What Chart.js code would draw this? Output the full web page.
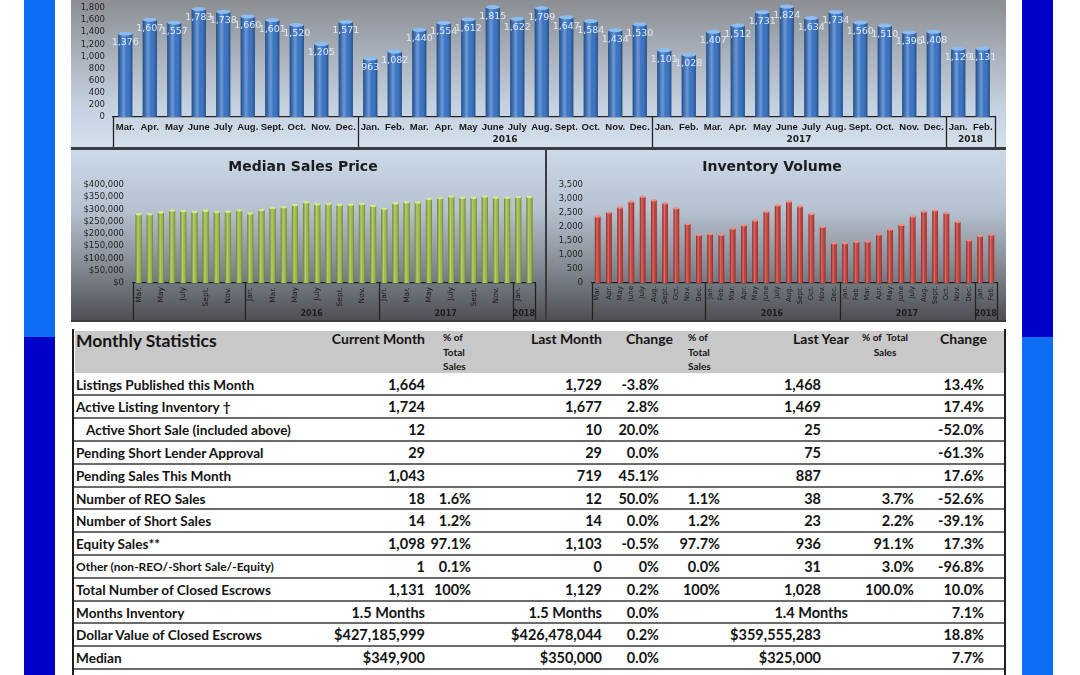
<!DOCTYPE html>
<html>
<head>
<meta charset="utf-8">
<script src="https://cdn.jsdelivr.net/npm/chart.js@4.4.1/dist/chart.umd.min.js"></script>
<style>
  html, body { margin: 0; padding: 0; background: #fff; }
  body { width: 1080px; height: 675px; position: relative; overflow: hidden; font-family: Lato, "Open Sans", sans-serif; color: #141414; }
  .strip { position: absolute; width: 31px; }
  #frame { position: absolute; left: 71px; top: 0; width: 935px; height: 322px; background: #3a3c3f; }
  #topPanel { position: absolute; left: 0; top: 0; width: 935px; height: 147px;
    background: linear-gradient(#8b8e93 0%, #a8afb9 35%, #c5d1df 72%, #d4dfec 100%); }
  #midL, #midR { position: absolute; top: 150px; height: 170px;
    background: linear-gradient(#ccd9e9 0%, #b6c2d0 35%, #858b93 68%, #4d5055 100%); }
  #midL { left: 0; width: 474px; }
  #midR { left: 476px; width: 459px; }
  canvas { position: absolute; left: 0; top: 0; }
  .cell { position: absolute; white-space: nowrap; font-weight: 700; }
</style>
</head>
<body>
<div class="strip" style="left:24px;top:0;height:337px;background:#0d6df5"></div>
<div class="strip" style="left:24px;top:337px;height:338px;background:#0000c9"></div>
<div class="strip" style="left:1022px;top:0;height:337px;background:#0000c9"></div>
<div class="strip" style="left:1022px;top:337px;height:338px;background:#0d6df5"></div>

<div id="frame">
  <div id="topPanel"><canvas id="salesChart" width="935" height="147"></canvas></div>
  <div id="midL"><canvas id="medianChart" width="474" height="170"></canvas></div>
  <div id="midR"><canvas id="inventoryChart" width="459" height="170"></canvas></div>
</div>

<div id="stats"></div>

<script>
// Month labels, Mar. 2015 to Feb. 2018
const monthLabels = ['Mar.', 'Apr.', 'May', 'June', 'July', 'Aug.', 'Sept.', 'Oct.', 'Nov.', 'Dec.',
  'Jan.', 'Feb.', 'Mar.', 'Apr.', 'May', 'June', 'July', 'Aug.', 'Sept.', 'Oct.', 'Nov.', 'Dec.',
  'Jan.', 'Feb.', 'Mar.', 'Apr.', 'May', 'June', 'July', 'Aug.', 'Sept.', 'Oct.', 'Nov.', 'Dec.',
  'Jan.', 'Feb.'];
const yearLabels = ['', '2016', '2017', '2018'];
const yearSizes = [10, 12, 12, 2];

const closedSales = [1376, 1607, 1557, 1783, 1738, 1660, 1601, 1520, 1205, 1571,
  963, 1082, 1440, 1554, 1612, 1815, 1622, 1799, 1647, 1584, 1434, 1530,
  1101, 1028, 1407, 1512, 1731, 1824, 1634, 1734, 1560, 1510, 1396, 1408,
  1129, 1131];

const medianPrice = [280000, 280000, 288000, 295000, 293000, 289000, 294000, 289000, 290000, 296000,
  283000, 297000, 305000, 309000, 318000, 329000, 321000, 322000, 318000, 319000, 322000, 314000,
  302000, 325000, 329000, 328000, 342000, 346000, 352000, 347000, 347000, 352000, 347000, 347000,
  350000, 349900];

const inventory = [2370, 2510, 2690, 2900, 3070, 2950, 2840, 2660, 2100, 1710,
  1750, 1720, 1940, 2060, 2230, 2540, 2770, 2900, 2730, 2460, 2000, 1420,
  1420, 1469, 1480, 1730, 1910, 2070, 2370, 2550, 2590, 2490, 2180, 1520,
  1677, 1724];

// Monthly statistics table
const rowLabels = ['Listings Published this Month', 'Active Listing Inventory \u2020', 'Active Short Sale (included above)',
  'Pending Short Lender Approval', 'Pending Sales This Month', 'Number of REO Sales', 'Number of Short Sales',
  'Equity Sales**', 'Other (non-REO/-Short Sale/-Equity)', 'Total Number of Closed Escrows', 'Months Inventory',
  'Dollar Value of Closed Escrows', 'Median'];
const currentMonth = ['1,664', '1,724', '12', '29', '1,043', '18', '14', '1,098', '1', '1,131', '1.5 Months', '$427,185,999', '$349,900'];
const currentPct = ['', '', '', '', '', '1.6%', '1.2%', '97.1%', '0.1%', '100%', '', '', ''];
const lastMonth = ['1,729', '1,677', '10', '29', '719', '12', '14', '1,103', '0', '1,129', '1.5 Months', '$426,478,044', '$350,000'];
const monthChange = ['-3.8%', '2.8%', '20.0%', '0.0%', '45.1%', '50.0%', '0.0%', '-0.5%', '0%', '0.2%', '0.0%', '0.2%', '0.0%'];
const lastMonthPct = ['', '', '', '', '', '1.1%', '1.2%', '97.7%', '0.0%', '100%', '', '', ''];
const lastYear = ['1,468', '1,469', '25', '75', '887', '38', '23', '936', '31', '1,028', '1.4 Months', '$359,555,283', '$325,000'];
const lastYearPct = ['', '', '', '', '', '3.7%', '2.2%', '91.1%', '3.0%', '100.0%', '', '', ''];
const yearChange = ['13.4%', '17.4%', '-52.0%', '-61.3%', '17.6%', '-52.6%', '-39.1%', '17.3%', '-96.8%', '10.0%', '7.1%', '18.8%', '7.7%'];

Chart.defaults.font.family = 'DejaVu Sans';
Chart.defaults.animation = false;

// draws the shaded "cylinder" look over the library's bars
const cylinderBars = {
  id: 'cylinderBars',
  afterDatasetsDraw(chart, args, opts) {
    const ctx = chart.ctx;
    chart.getDatasetMeta(0).data.forEach(bar => {
      const half = bar.width / 2;
      const g = ctx.createLinearGradient(bar.x - half, 0, bar.x + half, 0);
      g.addColorStop(0, 'rgba(0,0,0,0.28)');
      g.addColorStop(0.38, 'rgba(255,255,255,0.30)');
      g.addColorStop(0.6, 'rgba(255,255,255,0.05)');
      g.addColorStop(1, 'rgba(0,0,0,0.32)');
      ctx.save();
      ctx.fillStyle = g;
      ctx.fillRect(bar.x - half, bar.y, bar.width, bar.base - bar.y);
      ctx.fillStyle = opts.cap;
      ctx.beginPath();
      ctx.ellipse(bar.x, bar.y, half, Math.max(1.2, half * 0.28), 0, 0, Math.PI * 2);
      ctx.fill();
      ctx.restore();
    });
  }
};

// value labels on the closed sales bars
const barValues = {
  id: 'barValues',
  afterDatasetsDraw(chart, args, opts) {
    if (!opts.show) return;
    const ctx = chart.ctx;
    const data = chart.data.datasets[0].data;
    ctx.save();
    ctx.fillStyle = opts.color;
    ctx.font = opts.font;
    ctx.textAlign = 'center';
    ctx.textBaseline = 'middle';
    chart.getDatasetMeta(0).data.forEach((bar, i) => {
      ctx.fillText(data[i].toLocaleString('en-US'), bar.x, bar.y + opts.offset);
    });
    ctx.restore();
  }
};

// year separators and year names under the month labels
const yearGroups = {
  id: 'yearGroups',
  afterDraw(chart, args, opts) {
    const xs = chart.scales.x;
    const area = chart.chartArea;
    const ctx = chart.ctx;
    const step = xs.getPixelForValue(1) - xs.getPixelForValue(0);
    const edgeAt = i => xs.getPixelForValue(i) - step / 2;
    const line = px => {
      ctx.beginPath();
      ctx.moveTo(Math.round(px) + 0.5, area.bottom);
      ctx.lineTo(Math.round(px) + 0.5, area.bottom + opts.lineLen);
      ctx.stroke();
    };
    ctx.save();
    ctx.strokeStyle = opts.lineColor;
    ctx.lineWidth = 1.3;
    ctx.fillStyle = opts.textColor;
    ctx.font = opts.font;
    ctx.textAlign = 'center';
    ctx.textBaseline = 'middle';
    let start = 0;
    line(edgeAt(0));
    yearSizes.forEach((n, k) => {
      const end = start + n;
      line(edgeAt(end));
      if (yearLabels[k]) ctx.fillText(yearLabels[k], (edgeAt(start) + edgeAt(end)) / 2, area.bottom + opts.yearOffset);
      start = end;
    });
    ctx.restore();
  }
};

function makeBars(id, values, cfg) {
  return new Chart(document.getElementById(id), {
    type: 'bar',
    data: {
      labels: monthLabels,
      datasets: [{ data: values, backgroundColor: cfg.color, barPercentage: cfg.barPct, categoryPercentage: 1 }]
    },
    plugins: [cylinderBars, barValues, yearGroups],
    options: {
      responsive: false,
      layout: { padding: { top: cfg.padTop, right: cfg.padRight, left: 0, bottom: 0 } },
      plugins: {
        legend: { display: false },
        tooltip: { enabled: false },
        title: cfg.title ? {
          display: true, text: cfg.title, color: '#1b1b1b',
          font: { family: 'DejaVu Sans', size: 14, weight: 'bold' },
          padding: { top: 9, bottom: 9 }
        } : { display: false },
        cylinderBars: { cap: cfg.cap },
        barValues: { show: !!cfg.showValues, color: '#dde8f6', font: '9.5px "DejaVu Sans"', offset: 9 },
        yearGroups: { lineLen: cfg.lineLen, yearOffset: cfg.yearOffset, lineColor: '#222', textColor: '#1e1e1e', font: cfg.yearFont }
      },
      scales: {
        x: {
          grid: { display: false, drawTicks: false },
          border: { display: true, color: '#222', width: 1.3 },
          ticks: {
            autoSkip: false, minRotation: cfg.rotate, maxRotation: cfg.rotate, padding: cfg.tickPad,
            color: '#1a1a1a', font: cfg.xFont,
            callback: (v, i) => (cfg.every2 && i % 2) ? '' : monthLabels[i]
          },
          afterFit: s => { s.height = cfg.xHeight; }
        },
        y: {
          min: 0, max: cfg.max,
          grid: { display: false, drawTicks: false },
          border: { display: false },
          ticks: {
            autoSkip: false,
            stepSize: cfg.step, padding: cfg.yPad, color: '#262626', font: { size: 8.5 },
            callback: v => cfg.prefix + v.toLocaleString('en-US')
          },
          afterFit: s => {
            s.width = cfg.yWidth;
            if (cfg.noLabelPad) { s.paddingTop = 0; }
          }
        }
      }
    }
  });
}

makeBars('salesChart', closedSales, {
  color: '#2d6cc2', cap: '#8cbdf0', barPct: 0.58, max: 1800, step: 200, prefix: '',
  padTop: 8, padRight: 11, yWidth: 42, yPad: 8, xHeight: 30, rotate: 0, tickPad: 5, noLabelPad: true,
  xFont: { family: 'Liberation Sans', size: 9.5, weight: 'bold' },
  yearFont: 'bold 9px "DejaVu Sans"',
  lineLen: 30, yearOffset: 23, showValues: true
});

makeBars('medianChart', medianPrice, {
  color: '#98b83c', cap: '#d4ea8c', barPct: 0.55, max: 400000, step: 50000, prefix: '$',
  padTop: 0, padRight: 10, yWidth: 62, yPad: 9, xHeight: 37, rotate: 90, tickPad: 4,
  xFont: { family: 'DejaVu Sans', size: 7.5 }, every2: true,
  yearFont: 'bold 8px "DejaVu Sans"',
  lineLen: 37, yearOffset: 31, title: 'Median Sales Price'
});

makeBars('inventoryChart', inventory, {
  color: '#c4322b', cap: '#ee8e86', barPct: 0.5, max: 3500, step: 500, prefix: '',
  padTop: 0, padRight: 9, yWidth: 45, yPad: 9, xHeight: 37, rotate: 90, tickPad: 3,
  xFont: { family: 'DejaVu Sans', size: 7 },
  yearFont: 'bold 8px "DejaVu Sans"',
  lineLen: 37, yearOffset: 31, title: 'Inventory Volume'
});

// ---- table ----
const stats = document.getElementById('stats');
function box(css, text) {
  const d = document.createElement('div');
  d.className = 'cell';
  d.style.cssText = css;
  if (text !== undefined) d.innerHTML = text;
  stats.appendChild(d);
  return d;
}

box('left:75px;top:331px;width:929px;height:42px;background:#c8c8c8');
box('left:72px;top:329px;width:2px;height:346px;background:#1e1e1e');
box('left:1004px;top:329px;width:2px;height:346px;background:#1e1e1e');

const rowTop = i => 373.6 + 22.8 * i;
const colRight = [425, 471, 602, 659, 720, 821, 914, 984];
const statsCols = [currentMonth, currentPct, lastMonth, monthChange, lastMonthPct, lastYear, lastYearPct, yearChange];

// header
box('left:76px;top:330px;font-size:17.5px;line-height:22px', 'Monthly Statistics');
box('left:205px;width:220px;text-align:right;top:330px;font-size:14px;line-height:17px', 'Current Month');
box('left:443px;top:330px;font-size:10px;line-height:14.5px', '% of<br>Total<br>Sales');
box('left:382px;width:220px;text-align:right;top:330px;font-size:14px;line-height:17px', 'Last Month');
box('left:626px;top:330px;font-size:14px;line-height:17px', 'Change');
box('left:688px;top:330px;font-size:10px;line-height:14.5px', '% of<br>Total<br>Sales');
box('left:793px;top:330px;font-size:14px;line-height:17px', 'Last Year');
box('left:855px;top:330px;width:60px;text-align:center;font-size:10px;line-height:14.5px', '% of &nbsp;Total<br>Sales');
box('left:940px;top:330px;font-size:14px;line-height:17px', 'Change');

rowLabels.forEach((label, i) => {
  const top = rowTop(i);
  const indent = i === 2 ? 86 : 76;
  const size = i === 8 ? 12 : 13.6;
  box(`left:${indent}px;top:${top}px;height:22.8px;line-height:22.8px;font-size:${size}px`, label);
  statsCols.forEach((col, c) => {
    if (!col[i]) return;
    let right = colRight[c];
    if (c === 5 && col[i].indexOf('Months') > 0) right = 848;
    box(`left:${right - 220}px;width:220px;text-align:right;top:${top}px;height:22.8px;line-height:22.8px;font-size:14.5px`, col[i]);
  });
  box(`left:74px;top:${Math.round(rowTop(i + 1)) - 2}px;width:930px;height:2px;background:#6b6b6b`);
});
</script>
</body>
</html>
